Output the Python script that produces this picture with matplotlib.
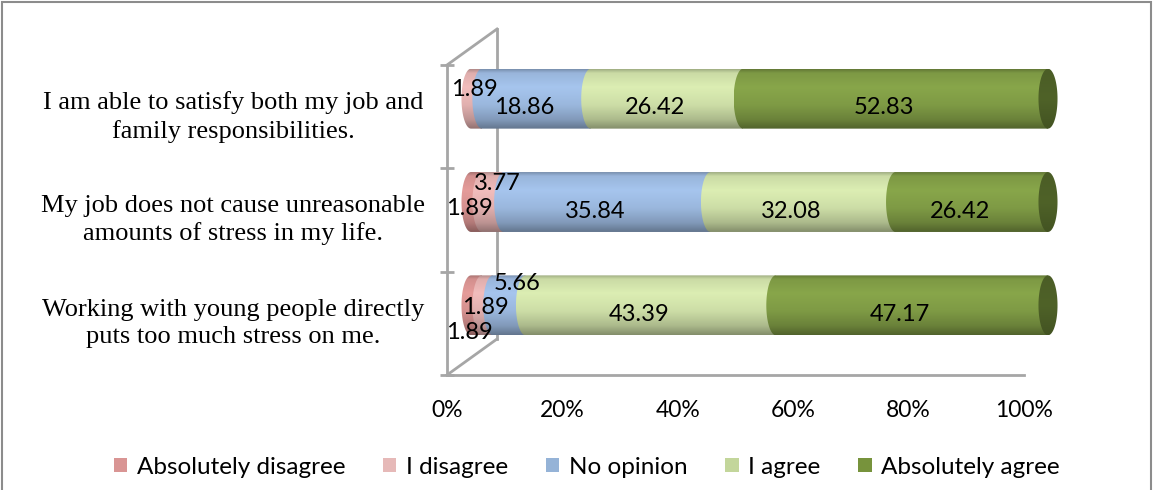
import numpy as np
import matplotlib
matplotlib.use('Agg')
import matplotlib.pyplot as plt
from matplotlib.path import Path
from matplotlib.patches import PathPatch, Patch, Rectangle
from matplotlib.lines import Line2D
import matplotlib.colors as mcolors

# ---------------- data ----------------
categories = ["I am able to satisfy both my job and\nfamily responsibilities.",
              "My job does not cause unreasonable\namounts of stress in my life.",
              "Working with young people directly\nputs too much stress on me."]
series_names = ["Absolutely disagree", "I disagree", "No opinion", "I agree", "Absolutely agree"]
absolutely_disagree = [0.00, 1.89, 1.89]
i_disagree = [1.89, 3.77, 1.89]
no_opinion = [18.86, 35.84, 5.66]
i_agree = [26.42, 32.08, 43.39]
absolutely_agree = [52.83, 26.42, 47.17]
x_ticks = [0, 20, 40, 60, 80, 100]
x_tick_labels = ["0%", "20%", "40%", "60%", "80%", "100%"]

series_values = [absolutely_disagree, i_disagree, no_opinion, i_agree, absolutely_agree]

# ---------------- style ----------------
bar_colors = ['#E59C9A', '#F2BDBC', '#A6C5EE', '#DCEEB3', '#88A64A']
legend_colors = ['#D99594', '#E6B9B8', '#95B3D7', '#C3D69B', '#77933C']
cap_color = '#4F6228'
line_gray = '#A6A6A6'
calibri_like = 'Lato'
label_fs = 17
# manual nudges (image pixels: dx right, dy down) for crowded small labels, keyed (row, series)
label_nudge = {(0, 1): (10, -18), (1, 0): (5, -3), (1, 1): (17, -28),
               (2, 0): (5, 18), (2, 1): (10, -7), (2, 2): (20, -31)}

W, H = 1153, 490
fig = plt.figure(figsize=(W / 100, H / 100), dpi=100)

# front plane axes (floor, axis, tick labels)
fx0, fy_top, fy_bot, fw = 447, 65, 375, 577
fh = fy_bot - fy_top
ax_f = fig.add_axes([fx0 / W, (H - fy_bot) / H, fw / W, fh / H])
ax_f.set_facecolor('none')
ax_f.set_xlim(0, 100)
ax_f.set_ylim(-0.5, 2.5)
for s in ['top', 'right']:
    ax_f.spines[s].set_visible(False)
for s in ['left', 'bottom']:
    ax_f.spines[s].set_color(line_gray)
    ax_f.spines[s].set_linewidth(2)
ax_f.set_xticks(x_ticks)
ax_f.set_xticklabels(x_tick_labels, fontsize=16.5, family=calibri_like)
ax_f.tick_params(axis='x', length=0, pad=18)
ax_f.set_yticks([-0.5, 0.5, 1.5, 2.5])
ax_f.set_yticklabels([])
ax_f.tick_params(axis='y', direction='inout', length=10, width=2, color=line_gray)

# depth lines (3D walls)
dx_back, dy_back = 50 / fw, 36 / fh
for y0 in (0, 1):
    ax_f.add_line(Line2D([0, dx_back], [y0, y0 + dy_back], transform=ax_f.transAxes,
                         color=line_gray, lw=2, clip_on=False))
ax_f.add_line(Line2D([dx_back, dx_back], [dy_back, 1 + dy_back], transform=ax_f.transAxes,
                     color=line_gray, lw=2, clip_on=False))

# category labels
ypos = [len(categories) - 1 - i for i in range(len(categories))]
for i, cat in enumerate(categories):
    ax_f.text((233 - fx0) / fw, ypos[i], cat, transform=ax_f.get_yaxis_transform(),
              ha='center', va='center', multialignment='center',
              fontsize=19, family='Liberation Serif', linespacing=1.32)

# bar plane axes (shifted into depth), with margin so end caps are not clipped
px_per_unit = fw / 100
xmin, xmax = -5, 105
bx0, by_top = fx0 + 24, fy_top - 18
ax_b = fig.add_axes([(bx0 + xmin * px_per_unit) / W, (H - (by_top + fh)) / H,
                     (xmax - xmin) * px_per_unit / W, fh / H])
ax_b.set_facecolor('none')
ax_b.axis('off')

h = 0.58
rx = 1.65
N = 64
t = np.linspace(0, 1, N)
shade = np.interp(t, [0, 0.06, 0.3, 0.6, 0.85, 1.0], [0.74, 0.92, 1.0, 0.93, 0.78, 0.6])


def grad(color, s=shade):
    rgb = np.array(mcolors.to_rgb(color))
    arr = np.clip(rgb[None, :] * s[:, None], 0, 1)
    return np.repeat(arr[:, None, :], 2, axis=1)


theta_left = np.linspace(np.pi / 2, 3 * np.pi / 2, 40)
theta_full = np.linspace(0, 2 * np.pi, 80)
z = 1
for i in range(len(categories)):
    y = ypos[i]
    cum = 0.0
    for j, vals in enumerate(series_values):
        v = vals[i]
        if v <= 0:
            continue
        a, b = cum, cum + v
        verts = [(b, y + h / 2), (a, y + h / 2)]
        verts += [(a + rx * np.cos(th), y + h / 2 * np.sin(th)) for th in theta_left]
        verts += [(b, y - h / 2), (b, y + h / 2)]
        codes = [Path.MOVETO] + [Path.LINETO] * (len(verts) - 2) + [Path.CLOSEPOLY]
        patch = PathPatch(Path(verts, codes), facecolor='none', edgecolor='none')
        ax_b.add_patch(patch)
        im = ax_b.imshow(grad(bar_colors[j]), extent=[a - rx, b, y - h / 2, y + h / 2],
                         aspect='auto', origin='upper', interpolation='bilinear', zorder=z)
        im.set_clip_path(patch)
        z += 1
        cum = b
    # right end cap
    verts = [(cum + rx * np.cos(th), y + h / 2 * np.sin(th)) for th in theta_full]
    codes = [Path.MOVETO] + [Path.LINETO] * (len(verts) - 2) + [Path.CLOSEPOLY]
    cap = PathPatch(Path(verts, codes), facecolor='none', edgecolor='none')
    ax_b.add_patch(cap)
    cap_shade = np.interp(t, [0, 0.5, 1.0], [0.95, 1.0, 0.85])
    im = ax_b.imshow(grad(cap_color, cap_shade), extent=[cum - rx, cum + rx, y - h / 2, y + h / 2],
                     aspect='auto', origin='upper', interpolation='bilinear', zorder=z)
    im.set_clip_path(cap)
    z += 1

# data labels
for i in range(len(categories)):
    y = ypos[i]
    cum = 0.0
    for j, vals in enumerate(series_values):
        v = vals[i]
        if v <= 0:
            continue
        mid = cum + v / 2
        ndx, ndy = label_nudge.get((i, j), (0, 0))
        ax_b.annotate(f"{v:.2f}", xy=(mid, y), xycoords='data',
                      xytext=(-12 + ndx, -9 - ndy), textcoords='offset pixels',
                      ha='center', va='center', fontsize=label_fs, family=calibri_like,
                      color='black', zorder=100, annotation_clip=False)
        cum += v

ax_b.set_xlim(xmin, xmax)
ax_b.set_ylim(-0.5, 2.5)

# legend
handles = [Patch(facecolor=c, edgecolor='none') for c in legend_colors]
fig.legend(handles, series_names, loc='center', bbox_to_anchor=(0.509, 23 / H), ncol=5,
           frameon=False, prop={'family': calibri_like, 'size': 17.5},
           handlelength=0.55, handleheight=0.55, handletextpad=0.4, columnspacing=1.55)

# outer border
fig.patches.append(Rectangle((1.5 / W, -0.05), (1151 - 1.5) / W, (H - 1.5) / H + 0.05,
                             transform=fig.transFigure, fill=False, edgecolor='#8C8C8C',
                             lw=1.5))

fig.savefig('out.png', dpi=100)
